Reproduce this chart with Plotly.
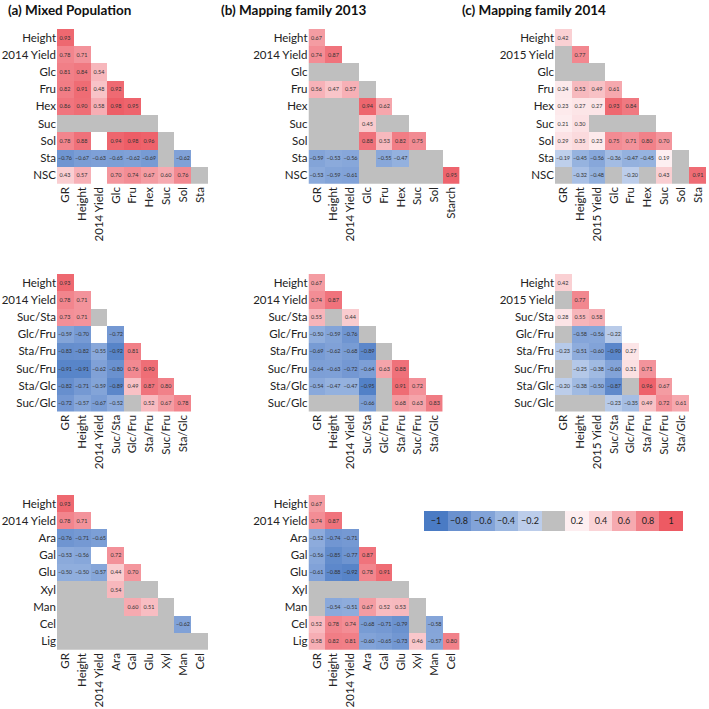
import plotly.graph_objects as go

G = "gray"   # grey cell
NA = None    # blank (white) cell

# ---------------- data ----------------
ROWS_SUGAR_A = ["Height", "2014 Yield", "Glc", "Fru", "Hex", "Suc", "Sol", "Sta", "NSC"]
COLS_SUGAR_A = ["GR", "Height", "2014 Yield", "Glc", "Fru", "Hex", "Suc", "Sol", "Sta"]
VALS_SUGAR_A = [
    [0.93],
    [0.78, 0.71],
    [0.81, 0.84, 0.54],
    [0.82, 0.91, 0.48, 0.92],
    [0.86, 0.90, 0.58, 0.98, 0.95],
    [G, G, G, G, G, G],
    [0.78, 0.88, NA, 0.94, 0.98, 0.96, G],
    [-0.76, -0.67, -0.63, -0.65, -0.62, -0.69, G, -0.62],
    [0.43, 0.57, NA, 0.70, 0.74, 0.67, 0.60, 0.76, G],
]

ROWS_SUGAR_B = ["Height", "2014 Yield", "Glc", "Fru", "Hex", "Suc", "Sol", "Sta", "NSC"]
COLS_SUGAR_B = ["GR", "Height", "2014 Yield", "Glc", "Fru", "Hex", "Suc", "Sol", "Starch"]
VALS_SUGAR_B = [
    [0.67],
    [0.74, 0.87],
    [G, G, G],
    [0.56, 0.47, 0.57, G],
    [G, G, G, 0.94, 0.62],
    [G, G, G, 0.45, G, G],
    [G, G, G, 0.88, 0.53, 0.82, 0.75],
    [-0.59, -0.53, -0.56, G, -0.55, -0.47, G, G],
    [-0.53, -0.59, -0.61, G, G, G, G, G, 0.95],
]

ROWS_SUGAR_C = ["Height", "2015 Yield", "Glc", "Fru", "Hex", "Suc", "Sol", "Sta", "NSC"]
COLS_SUGAR_C = ["GR", "Height", "2015 Yield", "Glc", "Fru", "Hex", "Suc", "Sol", "Sta"]
VALS_SUGAR_C = [
    [0.42],
    [G, 0.77],
    [G, G, G],
    [0.24, 0.53, 0.49, 0.61],
    [0.23, 0.27, 0.27, 0.93, 0.84],
    [0.21, 0.30, G, G, G, G],
    [0.29, 0.35, 0.23, 0.75, 0.71, 0.80, 0.70],
    [-0.19, -0.45, -0.56, -0.36, -0.47, -0.45, 0.19, G],
    [G, -0.32, -0.48, G, -0.20, G, 0.43, G, 0.91],
]

ROWS_RATIO_A = ["Height", "2014 Yield", "Suc/Sta", "Glc/Fru", "Sta/Fru", "Suc/Fru", "Sta/Glc", "Suc/Glc"]
COLS_RATIO_A = ["GR", "Height", "2014 Yield", "Suc/Sta", "Glc/Fru", "Sta/Fru", "Suc/Fru", "Sta/Glc"]
VALS_RATIO_A = [
    [0.93],
    [0.78, 0.71],
    [0.73, 0.71, G],
    [-0.59, -0.70, NA, -0.72],
    [-0.83, -0.82, -0.55, -0.92, 0.81],
    [-0.91, -0.91, -0.62, -0.80, 0.76, 0.90],
    [-0.82, -0.71, -0.59, -0.89, 0.49, 0.87, 0.80],
    [-0.72, -0.57, -0.67, -0.52, G, 0.52, 0.67, 0.78],
]

ROWS_RATIO_B = ["Height", "2014 Yield", "Suc/Sta", "Glc/Fru", "Sta/Fru", "Suc/Fru", "Sta/Glc", "Suc/Glc"]
COLS_RATIO_B = ["GR", "Height", "2014 Yield", "Suc/Sta", "Glc/Fru", "Sta/Fru", "Suc/Fru", "Sta/Glc"]
VALS_RATIO_B = [
    [0.67],
    [0.74, 0.87],
    [0.55, G, 0.44],
    [-0.50, -0.59, -0.76, G],
    [-0.69, -0.62, -0.68, -0.89, G],
    [-0.64, -0.63, -0.72, -0.64, 0.63, 0.88],
    [-0.54, -0.47, -0.47, -0.95, G, 0.91, 0.72],
    [G, G, G, -0.66, G, 0.68, 0.63, 0.83],
]

ROWS_RATIO_C = ["Height", "2015 Yield", "Suc/Sta", "Glc/Fru", "Sta/Fru", "Suc/Fru", "Sta/Glc", "Suc/Glc"]
COLS_RATIO_C = ["GR", "Height", "2015 Yield", "Suc/Sta", "Glc/Fru", "Sta/Fru", "Suc/Fru", "Sta/Glc"]
VALS_RATIO_C = [
    [0.42],
    [G, 0.77],
    [0.28, 0.55, 0.58],
    [G, -0.58, -0.56, -0.22],
    [-0.23, -0.51, -0.60, -0.90, 0.27],
    [G, -0.25, -0.38, -0.60, 0.31, 0.71],
    [-0.20, -0.38, -0.50, -0.87, G, 0.96, 0.67],
    [G, G, G, -0.23, -0.35, 0.49, 0.72, 0.61],
]

ROWS_WALL_A = ["Height", "2014 Yield", "Ara", "Gal", "Glu", "Xyl", "Man", "Cel", "Lig"]
COLS_WALL_A = ["GR", "Height", "2014 Yield", "Ara", "Gal", "Glu", "Xyl", "Man", "Cel"]
VALS_WALL_A = [
    [0.93],
    [0.78, 0.71],
    [-0.76, -0.71, -0.65],
    [-0.53, -0.56, NA, 0.72],
    [-0.50, -0.50, -0.57, 0.44, 0.70],
    [G, G, G, 0.54, G, G],
    [G, G, G, G, 0.60, 0.51, G],
    [G, G, G, G, G, G, G, -0.62],
    [G, G, G, G, G, G, G, G, G],
]

ROWS_WALL_B = ["Height", "2014 Yield", "Ara", "Gal", "Glu", "Xyl", "Man", "Cel", "Lig"]
COLS_WALL_B = ["GR", "Height", "2014 Yield", "Ara", "Gal", "Glu", "Xyl", "Man", "Cel"]
VALS_WALL_B = [
    [0.67],
    [0.74, 0.87],
    [-0.52, -0.74, -0.71],
    [-0.56, -0.85, -0.77, 0.87],
    [-0.61, -0.88, -0.92, 0.78, 0.91],
    [G, G, G, G, G, G],
    [G, -0.54, -0.51, 0.67, 0.52, 0.53, G],
    [0.52, 0.78, 0.74, -0.68, -0.71, -0.79, G, -0.58],
    [0.58, 0.82, 0.81, -0.60, -0.65, -0.73, 0.46, -0.57, 0.80],
]

TITLES = ["(a) Mixed Population", "(b) Mapping family 2013", "(c) Mapping family 2014"]

LEGEND_VALUES = [-1, -0.8, -0.6, -0.4, -0.2, G, 0.2, 0.4, 0.6, 0.8, 1]
LEGEND_LABELS = ["\u22121", "\u22120.8", "\u22120.6", "\u22120.4", "\u22120.2", "", "0.2", "0.4", "0.6", "0.8", "1"]

# ---------------- style ----------------
W = H = 709
FONT = "Lato"
GRAY = "#bfbfbf"
COLORSCALE = [
    [0.00, "#4a7bc4"],
    [0.10, "#6a91cf"],
    [0.20, "#82a3d8"],
    [0.30, "#9db8e1"],
    [0.40, "#bccdea"],
    [0.45, "#d3def1"],
    [0.50, "#ffffff"],
    [0.60, "#fdeef0"],
    [0.70, "#fad4d7"],
    [0.80, "#f6aab0"],
    [0.90, "#f18189"],
    [1.00, "#ed5a63"],
]
CW, CH = 16.8, 17.2

# panel placement (pixels)
PANELS = [
    (ROWS_SUGAR_A, COLS_SUGAR_A, VALS_SUGAR_A, 57, 29),
    (ROWS_SUGAR_B, COLS_SUGAR_B, VALS_SUGAR_B, 308.5, 29),
    (ROWS_SUGAR_C, COLS_SUGAR_C, VALS_SUGAR_C, 555, 29),
    (ROWS_RATIO_A, COLS_RATIO_A, VALS_RATIO_A, 57, 274),
    (ROWS_RATIO_B, COLS_RATIO_B, VALS_RATIO_B, 308.5, 274),
    (ROWS_RATIO_C, COLS_RATIO_C, VALS_RATIO_C, 555, 274),
    (ROWS_WALL_A, COLS_WALL_A, VALS_WALL_A, 57, 495),
    (ROWS_WALL_B, COLS_WALL_B, VALS_WALL_B, 308.5, 495),
]
TITLE_POS = [(6, 10), (219, 10), (460, 10)]


def fmt(v):
    s = f"{abs(v):.2f}"
    return ("\u2212" + s) if v < 0 else s


fig = go.Figure()
layout = dict(width=W, height=H, margin=dict(l=0, r=0, t=0, b=0, autoexpand=False),
              paper_bgcolor="white", plot_bgcolor="white", showlegend=False,
              font=dict(family=FONT, color="#222222"))

for k, (rows, cols, vals, x0, y0) in enumerate(PANELS, start=1):
    nr, nc = len(rows), len(cols)
    z = [[None] * nc for _ in range(nr)]
    g = [[None] * nc for _ in range(nr)]
    t = [[""] * nc for _ in range(nr)]
    for i, row in enumerate(vals):
        for j, v in enumerate(row):
            if v == G:
                g[i][j] = 1
            elif v is not None:
                z[i][j] = v
                t[i][j] = fmt(v)
    xa = "x" if k == 1 else f"x{k}"
    ya = "y" if k == 1 else f"y{k}"
    fig.add_trace(go.Heatmap(z=g, x=list(range(nc)), y=list(range(nr)),
                             colorscale=[[0, GRAY], [1, GRAY]], showscale=False,
                             hoverinfo="skip", xaxis=xa, yaxis=ya))
    fig.add_trace(go.Heatmap(z=z, x=list(range(nc)), y=list(range(nr)), text=t,
                             texttemplate="%{text}", textfont=dict(size=5.5, color="#333333", family=FONT),
                             colorscale=COLORSCALE, zmin=-1, zmax=1, showscale=False,
                             hoverinfo="skip", xaxis=xa, yaxis=ya))
    xd = [x0 / W, (x0 + nc * CW) / W]
    yd = [1 - (y0 + nr * CH) / H, 1 - y0 / H]
    xkey = "xaxis" if k == 1 else f"xaxis{k}"
    ykey = "yaxis" if k == 1 else f"yaxis{k}"
    layout[xkey] = dict(domain=xd, anchor=ya, range=[-0.5, nc - 0.5], tickmode="array",
                        tickvals=list(range(nc)), ticktext=cols, tickangle=-90, automargin=False,
                        showgrid=False, zeroline=False, showline=False, ticks="",
                        tickfont=dict(size=11.5, family=FONT, color="#222222"), fixedrange=True)
    layout[ykey] = dict(domain=yd, anchor=xa, range=[nr - 0.5, -0.5], tickmode="array",
                        tickvals=list(range(nr)), ticktext=rows, automargin=False,
                        showgrid=False, zeroline=False, showline=False, ticks="",
                        tickfont=dict(size=11.5, family=FONT, color="#222222"), fixedrange=True)

# colour key
k = len(PANELS) + 1
xa, ya = f"x{k}", f"y{k}"
lz = [[None if v == G else v for v in LEGEND_VALUES]]
lg = [[1 if v == G else None for v in LEGEND_VALUES]]
n = len(LEGEND_VALUES)
fig.add_trace(go.Heatmap(z=lg, x=list(range(n)), y=[0], colorscale=[[0, GRAY], [1, GRAY]],
                         showscale=False, hoverinfo="skip", xaxis=xa, yaxis=ya))
fig.add_trace(go.Heatmap(z=lz, x=list(range(n)), y=[0], text=[LEGEND_LABELS], texttemplate="%{text}",
                         textfont=dict(size=9, color="#222222", family=FONT),
                         colorscale=COLORSCALE, zmin=-1, zmax=1, showscale=False,
                         hoverinfo="skip", xaxis=xa, yaxis=ya))
layout[f"xaxis{k}"] = dict(domain=[424 / W, 683 / W], anchor=ya, range=[-0.5, n - 0.5],
                           visible=False, fixedrange=True, automargin=False)
layout[f"yaxis{k}"] = dict(domain=[1 - 531 / H, 1 - 511 / H], anchor=xa, range=[-0.5, 0.5],
                           visible=False, fixedrange=True, automargin=False)

annotations = []
for (tx, ty), title in zip(TITLE_POS, TITLES):
    annotations.append(dict(text=f"<b>{title}</b>", x=tx / W, y=1 - ty / H, xref="paper", yref="paper",
                            xanchor="left", yanchor="middle", showarrow=False,
                            font=dict(size=13.5, family=FONT, color="#111111")))
layout["annotations"] = annotations

fig.update_layout(**layout)
fig.write_html("out.html", config={"displayModeBar": False},
               post_script="document.body.style.margin='0';document.body.style.overflow='hidden';")
